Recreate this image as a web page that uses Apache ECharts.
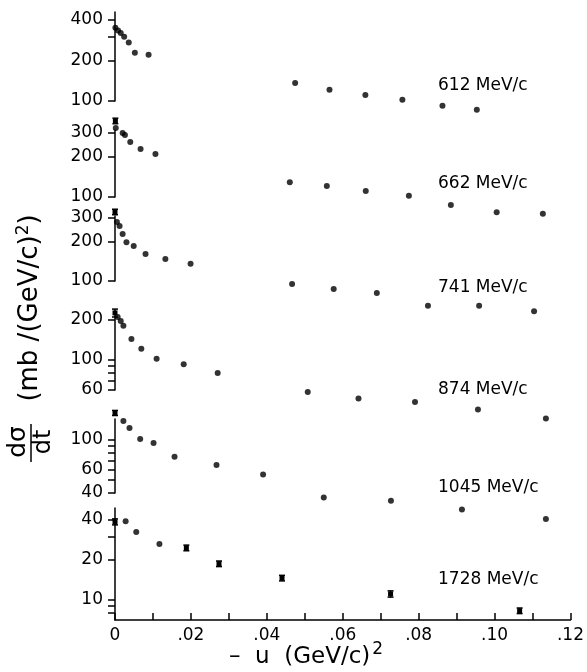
<!DOCTYPE html>
<html>
<head>
<meta charset="utf-8">
<script src="https://cdn.jsdelivr.net/npm/echarts@6/dist/echarts.min.js"></script>
<style>
  html, body { margin: 0; padding: 0; background: #fff; }
  #main { width: 587px; height: 672px; }
</style>
</head>
<body>
<div id="main"></div>
<script>
// -u (GeV/c)^2 and d(sigma)/dt in mb/(GeV/c)^2, one pair per beam momentum
var u612 = [0.0001, 0.0008, 0.0015, 0.0024, 0.0036, 0.0052, 0.0088, 0.0472, 0.0562, 0.0656, 0.0753, 0.0858, 0.0948];
var s612 = [350, 335, 320, 300, 272, 228, 221, 136, 121, 111, 102, 92, 86];

var u662 = [0.0002, 0.0020, 0.0026, 0.0040, 0.0067, 0.0106, 0.0458, 0.0555, 0.0657, 0.0770, 0.0880, 0.1000, 0.1121];
var s662 = [327, 300, 290, 257, 228, 209, 129, 121, 111, 102, 87, 77, 75];
var err662 = [[0.0001, 369, 352, 387]];

var u741 = [0.0005, 0.0012, 0.0020, 0.0030, 0.0049, 0.0080, 0.0132, 0.0198, 0.0464, 0.0573, 0.0686, 0.0820, 0.0954, 0.1098];
var s741 = [280, 261, 227, 197, 184, 160, 147, 135, 95, 87, 81, 65, 65, 59];
var err741 = [[0.0000, 333, 318, 350]];

var u874 = [0.0007, 0.0015, 0.0022, 0.0043, 0.0069, 0.0109, 0.0180, 0.0269, 0.0505, 0.0638, 0.0786, 0.0951, 0.1129];
var s874 = [208, 194, 179, 143, 121, 102, 93, 80, 58, 52, 49, 43, 37];
var err874 = [[0.0000, 223, 208, 238]];

var u1045 = [0.0022, 0.0038, 0.0066, 0.0101, 0.0156, 0.0266, 0.0388, 0.0547, 0.0723, 0.0909, 0.1129];
var s1045 = [139, 123, 102, 95, 75, 65, 55, 37, 35, 30, 25.5];
var err1045 = [[0.0000, 160, 153, 167]];

var u1728 = [0.0028, 0.0056, 0.0117];
var s1728 = [39, 32.4, 26.3];
var err1728 = [[0.0000, 38.6, 36.6, 40.6], [0.0188, 24.6, 23.4, 25.8], [0.0274, 18.7, 17.8, 19.6],
               [0.0440, 14.6, 13.9, 15.3], [0.0726, 11.1, 10.5, 11.7], [0.1066, 8.3, 7.9, 8.7]];

// axis ranges and ticks of each panel
var names = ['612 MeV/c', '662 MeV/c', '741 MeV/c', '874 MeV/c', '1045 MeV/c', '1728 MeV/c'];
var yRange = [[100, 459], [100, 316], [100, 311], [60, 208], [40, 144], [7.07, 49]];
var yLabels = [[100, 200, 400], [100, 200, 300], [100, 200, 300], [60, 100, 200], [40, 60, 100], [10, 20, 40]];
var yTicks = [[100, 200, 300, 400], [100, 200, 300], [100, 200, 300], [60, 70, 80, 90, 100, 200],
              [40, 50, 60, 70, 80, 90, 100], [8, 9, 10, 20, 30, 40]];

var uList = [u612, u662, u741, u874, u1045, u1728];
var sList = [s612, s662, s741, s874, s1045, s1728];
var errList = [[], err662, err741, err874, err1045, err1728];

// layout of the stacked panels (pixels)
var gridTop = [12, 130, 216, 317, 419, 508];
var gridH = [89, 67, 65, 73, 74, 112];
var nameY = [86, 184, 288, 390, 488, 580];

var font = 'DejaVu Sans';
var lg = function (v) { return Math.log10(v); };

function renderErr(params, api) {
  var p = api.coord([api.value(0), api.value(1)]);
  var lo = api.coord([api.value(0), api.value(2)]);
  var hi = api.coord([api.value(0), api.value(3)]);
  var st = { stroke: '#000', lineWidth: 1.5 };
  return {
    type: 'group',
    children: [
      { type: 'rect', shape: { x: p[0] - 2.5, y: p[1] - 2.5, width: 5, height: 5 }, style: { fill: '#000' } },
      { type: 'line', shape: { x1: p[0], y1: hi[1], x2: p[0], y2: lo[1] }, style: st },
      { type: 'line', shape: { x1: p[0] - 3, y1: hi[1], x2: p[0] + 3, y2: hi[1] }, style: st },
      { type: 'line', shape: { x1: p[0] - 3, y1: lo[1], x2: p[0] + 3, y2: lo[1] }, style: st }
    ]
  };
}

var grids = [], xAxes = [], yAxes = [], series = [], graphic = [];
for (var i = 0; i < 6; i++) {
  var last = i === 5;
  grids.push({ left: 115, right: 14, top: gridTop[i], height: gridH[i] });
  xAxes.push({
    type: 'value', gridIndex: i, min: 0, max: 0.12, interval: 0.02, show: last,
    axisLine: { lineStyle: { color: '#000', width: 1.5 } },
    axisTick: { inside: true, length: 7, lineStyle: { color: '#000', width: 1.5 } },
    minorTick: { show: true, splitNumber: 2, length: 7, lineStyle: { color: '#000', width: 1.5 } },
    splitLine: { show: false },
    axisLabel: {
      color: '#000', fontSize: 17, fontFamily: font, margin: 7,
      formatter: function (v) { return v === 0 ? '0' : v.toFixed(2).replace(/^0/, ''); }
    }
  });
  yAxes.push({
    type: 'value', gridIndex: i, min: lg(yRange[i][0]), max: lg(yRange[i][1]),
    axisLine: { show: true, lineStyle: { color: '#000', width: 1.5 } },
    axisTick: { show: true, length: 7, customValues: yTicks[i].map(lg), lineStyle: { color: '#000', width: 1.5 } },
    splitLine: { show: false },
    axisLabel: {
      color: '#000', fontSize: 17, fontFamily: font, margin: 12,
      customValues: yLabels[i].map(lg),
      formatter: function (v) { return String(Math.round(Math.pow(10, v))); }
    }
  });
  series.push({
    type: 'scatter', xAxisIndex: i, yAxisIndex: i, clip: false,
    symbol: 'circle', symbolSize: 6, itemStyle: { color: '#000' },
    data: uList[i].map(function (u, k) { return [u, lg(sList[i][k])]; })
  });
  if (errList[i].length) {
    series.push({
      type: 'custom', xAxisIndex: i, yAxisIndex: i, clip: false,
      renderItem: renderErr, encode: { x: 0, y: 1 },
      data: errList[i].map(function (d) { return [d[0], lg(d[1]), lg(d[2]), lg(d[3])]; })
    });
  }
  graphic.push({
    type: 'text', x: 438, y: nameY[i],
    style: { text: names[i], fill: '#000', fontSize: 17, fontFamily: font, verticalAlign: 'middle' }
  });
}

// y axis title, rotated
graphic.push(
  { type: 'text', x: 18, y: 442, rotation: Math.PI / 2,
    style: { text: 'dσ', fill: '#000', fontSize: 25, fontFamily: font, align: 'center', verticalAlign: 'middle' } },
  { type: 'line', shape: { x1: 31, y1: 424, x2: 31, y2: 462 }, style: { stroke: '#000', lineWidth: 1.5 } },
  { type: 'text', x: 44, y: 442, rotation: Math.PI / 2,
    style: { text: 'dt', fill: '#000', fontSize: 24, fontFamily: font, align: 'center', verticalAlign: 'middle' } },
  { type: 'text', x: 30, y: 308, rotation: Math.PI / 2,
    style: {
      text: '{a|(mb /(GeV/c)}{s|2}{a|)}', align: 'center', verticalAlign: 'middle',
      rich: {
        a: { fontSize: 26, fontFamily: font, fill: '#000' },
        s: { fontSize: 17, fontFamily: font, fill: '#000', verticalAlign: 'top', padding: [0, 0, 12, 0] }
      }
    } },
  { type: 'text', x: 306, y: 657,
    style: {
      text: '{a|–  u  (GeV/c)}{s|2}', align: 'center', verticalAlign: 'middle',
      rich: {
        a: { fontSize: 23, fontFamily: font, fill: '#000' },
        s: { fontSize: 17, fontFamily: font, fill: '#000', verticalAlign: 'top', padding: [0, 0, 14, 2] }
      }
    } }
);

var myChart = echarts.init(document.getElementById('main'));
myChart.setOption({
  backgroundColor: '#fff',
  animation: false,
  grid: grids,
  xAxis: xAxes,
  yAxis: yAxes,
  series: series,
  graphic: graphic
});
</script>
</body>
</html>
